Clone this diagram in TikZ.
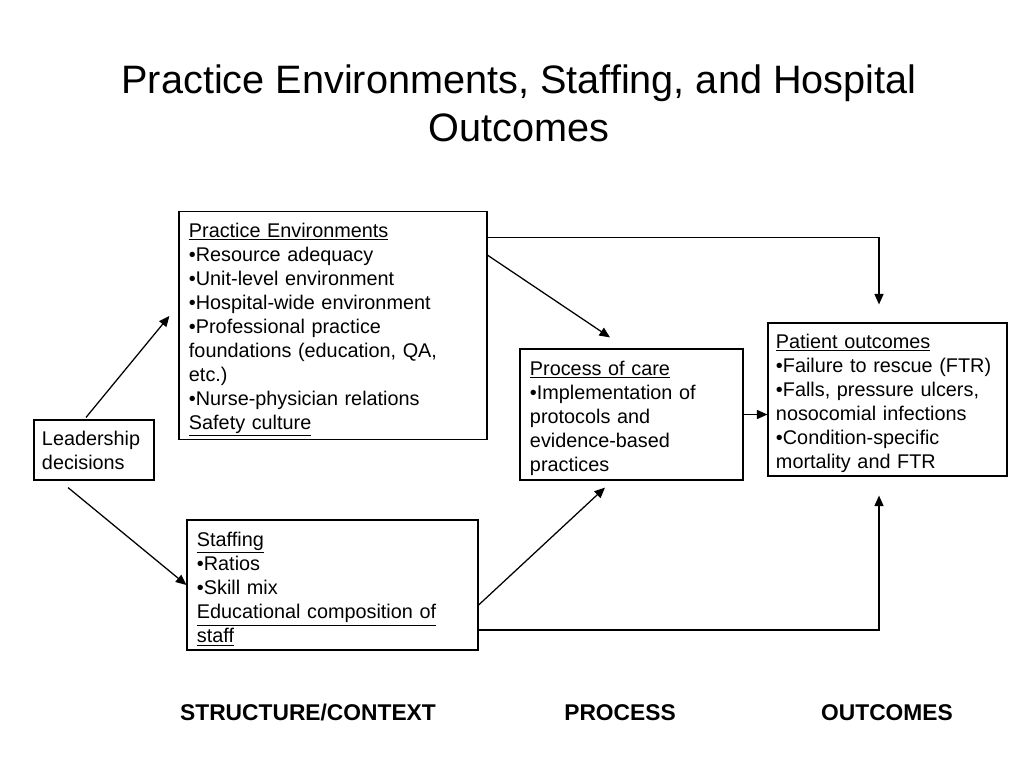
\documentclass[tikz,border=0pt]{standalone}
\usepackage{fontspec}
\setmainfont{Liberation Sans}
\usetikzlibrary{
    arrows.meta,
    positioning,
    calc
}
% extra height over the first line, pushes box text a little down
\newcommand{\boxtop}{\rule{0pt}{16pt}}

\begin{document}
\begin{tikzpicture}[
    x=0.025cm, y=-0.025cm,
    box/.style={draw, line width=0.8pt, rectangle, align=left, inner xsep=0.25cm, inner ysep=2pt, font=\fontsize{14.1pt}{17.1pt}\selectfont},
    arrow/.style={-{Triangle[length=7.5pt, width=6.5pt]}, line width=0.9pt},
    heading/.style={anchor=base, font=\bfseries\fontsize{16.2pt}{19pt}\selectfont},
    title/.style={align=center, font=\fontsize{28.2pt}{34pt}\selectfont}
]
\useasboundingbox (0,0) rectangle (1024,768);

% Title
\node[title] (T) at (519,103) {Practice Environments, Staffing, and Hospital\\Outcomes};

% Structure
\node[box, text width=2.6cm, inner xsep=0.2cm, minimum height=1.5cm] (lead) at (94,450) {Leadership\\decisions};
\node[box, text width=7.2cm, minimum height=5.625cm] (PE) at (333,325.5) {\boxtop\underline{Practice Environments}\\
•Resource adequacy\\
•Unit-level environment\\
•Hospital-wide environment\\
•Professional practice\\
foundations (education, QA,\\
etc.)\\
•Nurse-physician relations\\
\underline{Safety culture}};
\node[box, text width=6.775cm, minimum height=3.25cm] (staff) at (332.5,585) {\boxtop\underline{Staffing}\\
•Ratios\\
•Skill mix\\
\underline{Educational composition of}\\
\underline{staff}};

% Process
\node[box, text width=5.075cm, minimum height=3.275cm] (proc) at (631.5,414.5) {\boxtop\underline{Process of care}\\
•Implementation of\\
protocols and\\
evidence-based\\
practices};

% Outcomes
\node[box, text width=5.575cm, inner xsep=0.2cm, minimum height=3.825cm] (pat) at (887.5,399.5) {\boxtop\underline{Patient outcomes}\\
•Failure to rescue (FTR)\\
•Falls, pressure ulcers,\\
nosocomial infections\\
•Condition-specific\\
mortality and FTR};

\draw[arrow] ($(lead.north)+(-8,-2)$) -- ($(PE.west)+(-9,-9.5)$);
\draw[arrow] ($(lead.south)+(-26,7)$) -- (staff.west);
\draw[arrow] ($(PE.north east)+(0,26)$) -| ($(pat.north)+(-8.5,-18)$);
\draw[arrow] ($(PE.north east)+(0,44)$) -- ($(proc.north)+(-21.5,-11)$);
\draw[arrow] ($(staff.east)+(0,20)$) -- ($(proc.south)+(-26.5,7)$);
\draw[arrow] ($(staff.east)+(0,45)$) -| ($(pat.south)+(-8.5,19)$);
\draw[arrow] (proc.east) -- (proc.east -| pat.west);

% Column headings
\node[heading] (hs) at (308,720) {STRUCTURE/CONTEXT};
\node[heading] (hp) at (620,720) {PROCESS};
\node[heading] (ho) at (887,720) {OUTCOMES};
\end{tikzpicture}
\end{document}
